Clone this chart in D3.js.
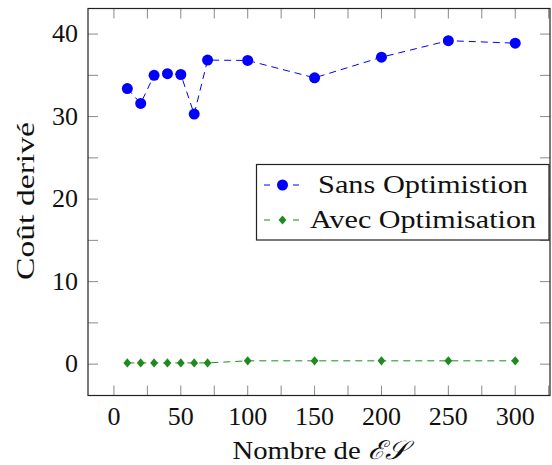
<!DOCTYPE html>
<html>
<head>
<meta charset="utf-8">
<script src="https://cdn.jsdelivr.net/npm/d3@7"></script>
<style>
  html, body { margin: 0; padding: 0; background: #fff; }
  svg text { font-family: "Liberation Serif", "DejaVu Serif", serif; fill: #111; }
</style>
</head>
<body>
<svg id="chart" width="552" height="465"></svg>
<script>
// Nombre d'ES testés
const esCounts = [10, 20, 30, 40, 50, 60, 70, 100, 150, 200, 250, 300];
// Coût dérivé sans optimisation
const sansOptim = [33.4, 31.6, 35.0, 35.2, 35.1, 30.3, 36.85, 36.8, 34.7, 37.2, 39.2, 38.9];
// Coût dérivé avec optimisation
const avecOptim = [0.15, 0.15, 0.15, 0.15, 0.15, 0.15, 0.15, 0.4, 0.4, 0.4, 0.4, 0.4];

const xTickValues = [0, 50, 100, 150, 200, 250, 300];
const xMinorValues = [25, 75, 125, 175, 225, 275, 325];
const yTickValues = [0, 10, 20, 30, 40];
const yMinorValues = [-5, 5, 15, 25, 35];

const seriesNames = ["Sans Optimistion", "Avec Optimisation"];
const seriesColors = ["#0000ff", "#1f8a1f"];

const svg = d3.select("#chart");
const plotLeft = 88, plotRight = 550, plotTop = 8.5, plotBottom = 395.5;

const x = d3.scaleLinear().domain([-19.4, 326]).range([plotLeft, plotRight]);
const y = d3.scaleLinear().domain([-3.8, 43.1]).range([plotBottom, plotTop]);

const tickLen = 10;
const tickColor = "#8a8a8a";

// ticks drawn inward on all four sides
const g = svg.append("g");
const allX = xTickValues.concat(xMinorValues).filter(v => x(v) > plotLeft && x(v) < plotRight);
const allY = yTickValues.concat(yMinorValues).filter(v => y(v) > plotTop && y(v) < plotBottom);

g.append("g").selectAll("line").data(allX).join("line")
  .attr("x1", d => x(d)).attr("x2", d => x(d))
  .attr("y1", plotBottom).attr("y2", plotBottom - tickLen)
  .attr("stroke", tickColor).attr("stroke-width", 1);
g.append("g").selectAll("line").data(allX).join("line")
  .attr("x1", d => x(d)).attr("x2", d => x(d))
  .attr("y1", plotTop).attr("y2", plotTop + tickLen)
  .attr("stroke", tickColor).attr("stroke-width", 1);
g.append("g").selectAll("line").data(allY).join("line")
  .attr("y1", d => y(d)).attr("y2", d => y(d))
  .attr("x1", plotLeft).attr("x2", plotLeft + tickLen)
  .attr("stroke", tickColor).attr("stroke-width", 1);
g.append("g").selectAll("line").data(allY).join("line")
  .attr("y1", d => y(d)).attr("y2", d => y(d))
  .attr("x1", plotRight).attr("x2", plotRight - tickLen)
  .attr("stroke", tickColor).attr("stroke-width", 1);

// frame
svg.append("rect")
  .attr("x", plotLeft).attr("y", plotTop)
  .attr("width", plotRight - plotLeft).attr("height", plotBottom - plotTop)
  .attr("fill", "none").attr("stroke", "#222").attr("stroke-width", 1.2);

// tick labels
svg.append("g").selectAll("text").data(xTickValues).join("text")
  .attr("x", d => x(d)).attr("y", 425)
  .attr("text-anchor", "middle").attr("font-size", 26)
  .text(d => d);
svg.append("g").selectAll("text").data(yTickValues).join("text")
  .attr("x", 78).attr("y", d => y(d) + 8)
  .attr("text-anchor", "end").attr("font-size", 26)
  .text(d => d);

// axis titles
const xTitle = svg.append("text")
  .attr("x", 320).attr("y", 459)
  .attr("text-anchor", "middle").attr("font-size", 26)
  .attr("textLength", 175).attr("lengthAdjust", "spacingAndGlyphs");
xTitle.append("tspan").text("Nombre de ");
xTitle.append("tspan").attr("font-style", "italic").text("ℰ𝒮");

svg.append("text")
  .attr("transform", "translate(34,201) rotate(-90)")
  .attr("text-anchor", "middle").attr("font-size", 26)
  .attr("textLength", 158).attr("lengthAdjust", "spacingAndGlyphs")
  .text("Coût derivé");

// series
const line = d3.line().x(d => x(d[0])).y(d => y(d[1]));
const sansData = esCounts.map((c, i) => [c, sansOptim[i]]);
const avecData = esCounts.map((c, i) => [c, avecOptim[i]]);

const diamond = (cx, cy) => `M${cx},${cy - 4.6}L${cx + 3.9},${cy}L${cx},${cy + 4.6}L${cx - 3.9},${cy}Z`;

svg.append("path").datum(avecData)
  .attr("d", line).attr("fill", "none")
  .attr("stroke", seriesColors[1]).attr("stroke-width", 1)
  .attr("stroke-dasharray", "7,5");
svg.append("g").selectAll("path").data(avecData).join("path")
  .attr("d", d => diamond(x(d[0]), y(d[1])))
  .attr("fill", seriesColors[1]);

svg.append("path").datum(sansData)
  .attr("d", line).attr("fill", "none")
  .attr("stroke", seriesColors[0]).attr("stroke-width", 1)
  .attr("stroke-dasharray", "7,5");
svg.append("g").selectAll("circle").data(sansData).join("circle")
  .attr("cx", d => x(d[0])).attr("cy", d => y(d[1]))
  .attr("r", 5.5).attr("fill", seriesColors[0]);

// legend
const lg = svg.append("g");
lg.append("rect")
  .attr("x", 256.5).attr("y", 164.5).attr("width", 292.5).attr("height", 75.5)
  .attr("fill", "#fff").attr("stroke", "#222").attr("stroke-width", 1.2);
const rows = [185, 220];
const textLens = [210, 226];
seriesNames.forEach((name, i) => {
  const ry = rows[i];
  lg.append("line").attr("x1", 264).attr("x2", 270).attr("y1", ry).attr("y2", ry)
    .attr("stroke", seriesColors[i]).attr("stroke-width", 1);
  lg.append("line").attr("x1", 293).attr("x2", 299).attr("y1", ry).attr("y2", ry)
    .attr("stroke", seriesColors[i]).attr("stroke-width", 1);
  if (i === 0) {
    lg.append("circle").attr("cx", 282.5).attr("cy", ry).attr("r", 5.5).attr("fill", seriesColors[i]);
  } else {
    lg.append("path").attr("d", diamond(282.5, ry)).attr("fill", seriesColors[i]);
  }
  lg.append("text").attr("x", 423).attr("y", ry + 8)
    .attr("text-anchor", "middle").attr("font-size", 26)
    .attr("textLength", textLens[i]).attr("lengthAdjust", "spacingAndGlyphs")
    .text(name);
});
</script>
</body>
</html>
